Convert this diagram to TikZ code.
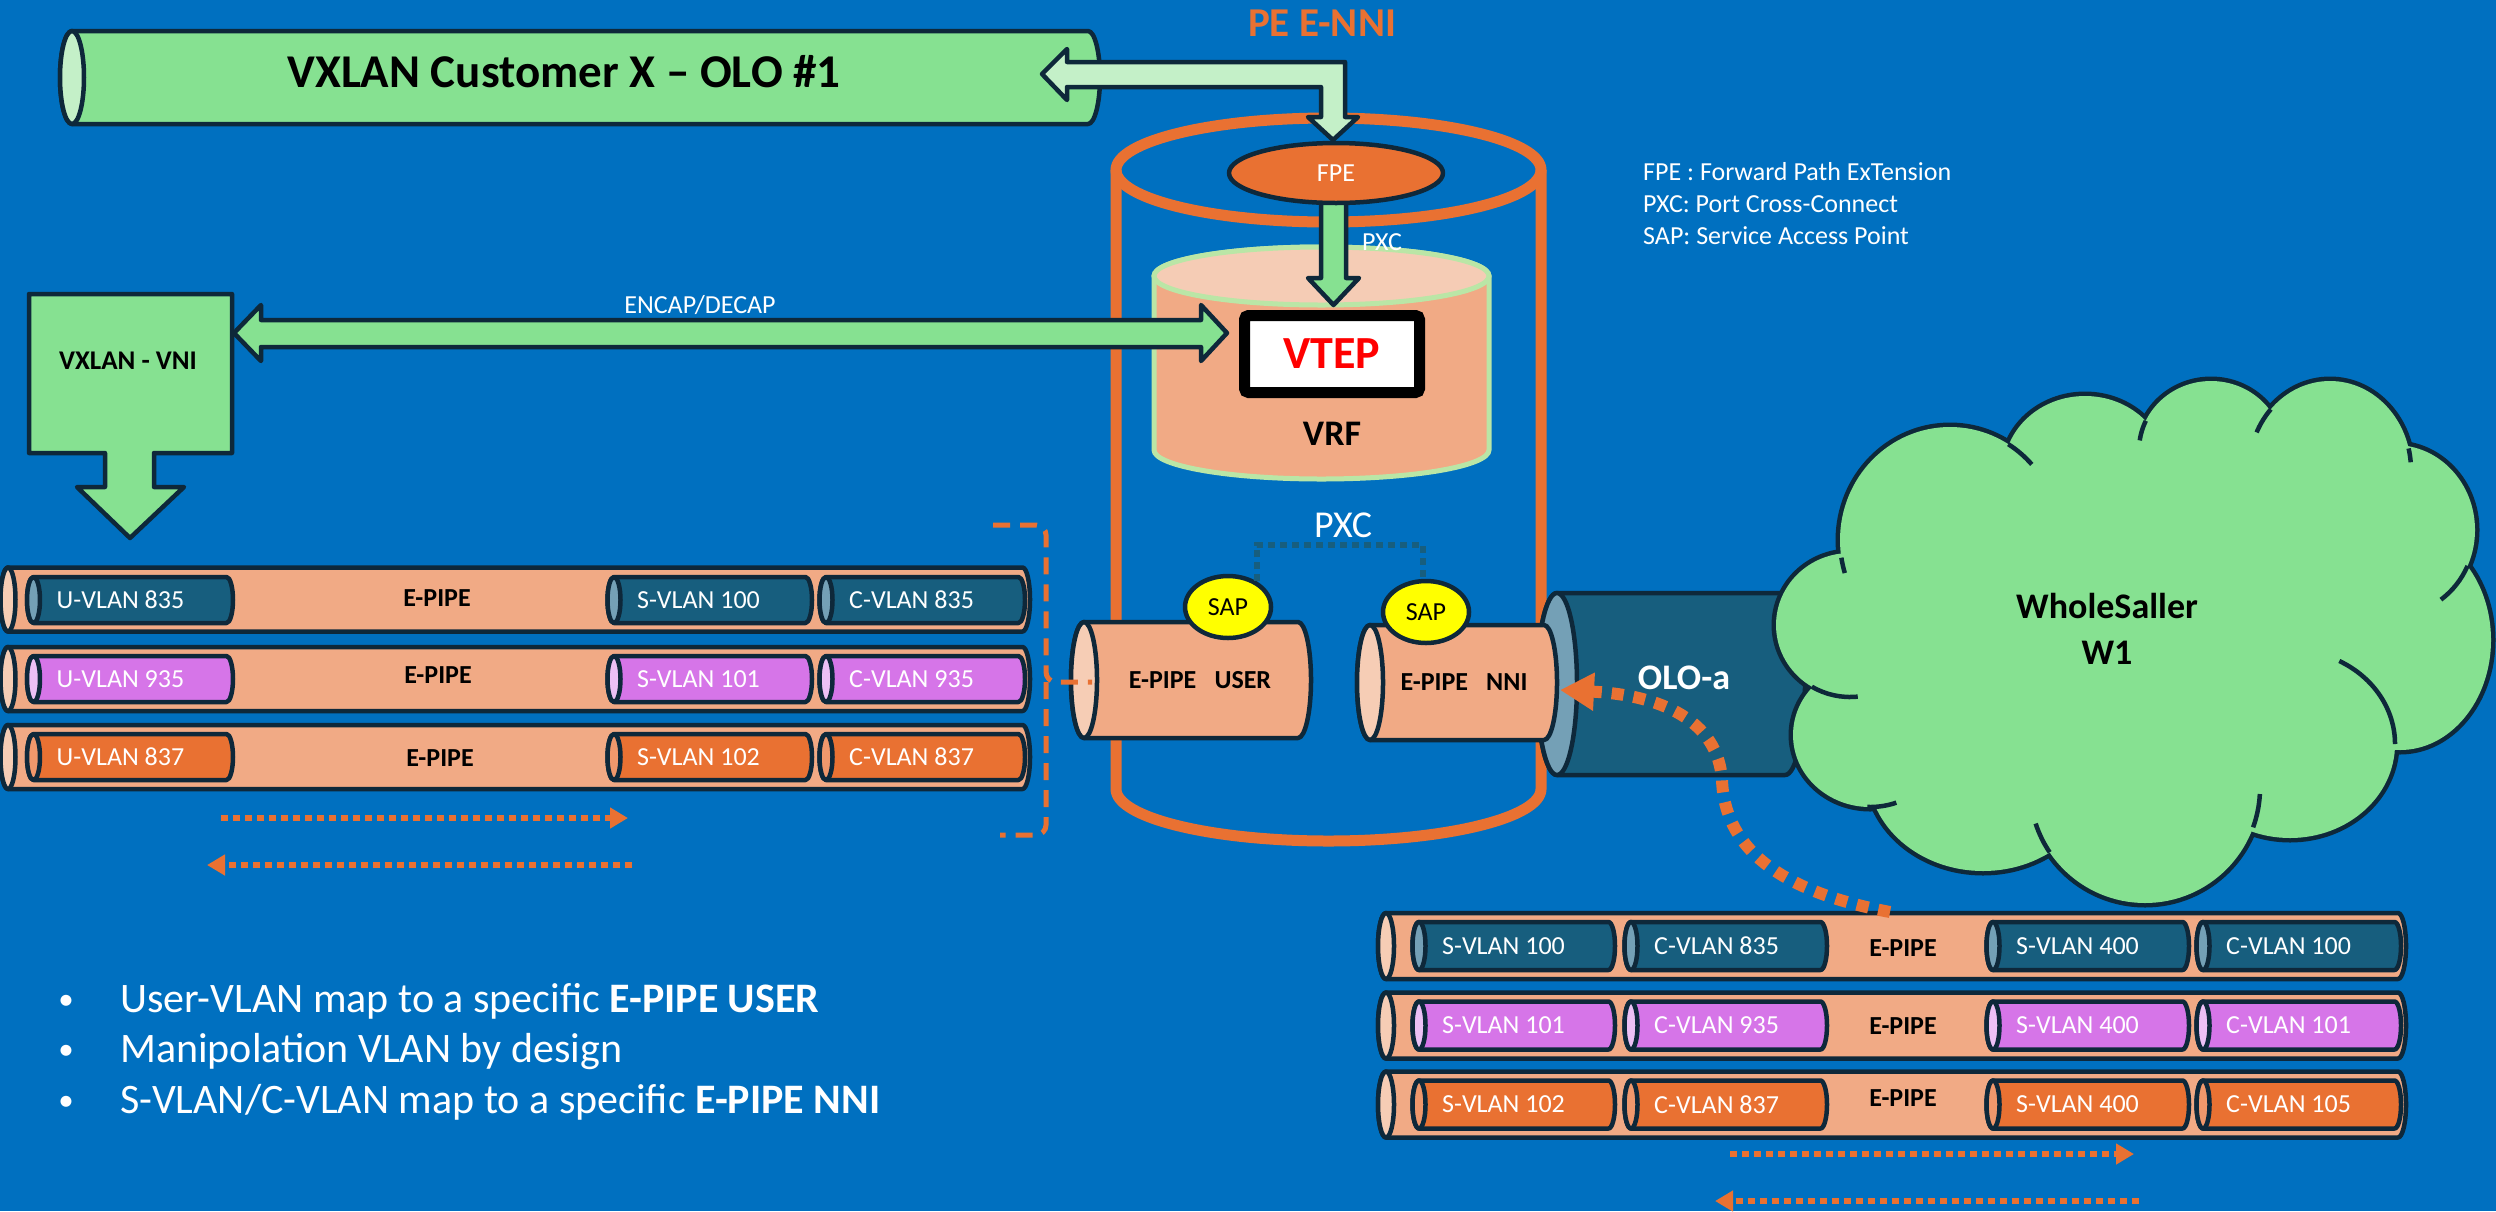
\documentclass[tikz,border=0pt]{standalone}
\usepackage{fontspec}
\setmainfont{Carlito}
\usetikzlibrary{arrows.meta,shapes.geometric}

\definecolor{cBg}{RGB}{0,112,192}
\definecolor{cOut}{RGB}{14,40,58}
\definecolor{cGreen}{RGB}{134,225,145}
\definecolor{cPale}{RGB}{196,240,200}
\definecolor{cSalmon}{RGB}{241,170,133}
\definecolor{cSalmonCap}{RGB}{246,205,181}
\definecolor{cOrange}{RGB}{233,113,50}
\definecolor{cOrangeCap}{RGB}{240,152,108}
\definecolor{cTeal}{RGB}{23,94,126}
\definecolor{cTealCap}{RGB}{116,160,182}
\definecolor{cViolet}{RGB}{214,117,232}
\definecolor{cVioletCap}{RGB}{236,192,245}
\definecolor{cYellow}{RGB}{255,255,0}
\definecolor{cVrfEdge}{RGB}{186,230,166}
\definecolor{cVrfTop}{RGB}{245,204,181}
\definecolor{cRed}{RGB}{255,0,0}

\tikzset{
  outl/.style={draw=cOut, line width=4.5pt, line join=round},
  tx/.style={inner sep=0pt, font=\fontsize{#1}{#1}\selectfont},
  btx/.style={inner sep=0pt, font=\fontsize{#1}{#1}\selectfont\bfseries},
  dotarrow/.style={cOrange, line width=6pt, dash pattern=on 7pt off 5pt,
    -{Triangle[length=18pt,width=20pt]}},
  bigdots/.style={cOrange, line width=12pt, dash pattern=on 12pt off 10pt,
    -{Triangle[length=34pt,width=36pt]}},
  bracepath/.style={cOrange, line width=5pt, dash pattern=on 17pt off 10pt,
    rounded corners=10pt},
  pxcline/.style={draw=cTeal, line width=6pt, dash pattern=on 7pt off 5pt},
  sap/.style={ellipse, outl, fill=cYellow, inner sep=0pt,
    minimum width=86pt, minimum height=62pt, tx=26, text=black},
  epipe/.style={btx=26, text=black},
  pecyl/.style={draw=cOrange, line width=11pt},
}

% horizontal cylinder: left cap centre x, right end x, centre y,
% half height, cap half width, body colour, cap colour
\newcommand{\hcyl}[7]{%
  \draw[outl, fill=#6] (#1,{#3-#4}) -- ({#2-#5},{#3-#4})
    arc[start angle=-90, end angle=90, x radius=#5, y radius=#4]
    -- (#1,{#3+#4})
    arc[start angle=90, end angle=270, x radius=#5, y radius=#4] -- cycle;
  \draw[outl, fill=#7] (#1,#3) ellipse[x radius=#5, y radius=#4];
}
% VLAN tag: left x, right x, centre y, half height, body, cap, text, name
\newcommand{\vtag}[8]{%
  \hcyl{#1}{#2}{#3}{#4}{6.5}{#5}{#6}
  \node[tx=26, text=white, anchor=west] (#8) at ({#1+23},#3) {#7};
}

\begin{document}
\begin{tikzpicture}[x=1pt, y=-1pt]
\useasboundingbox (0,0) rectangle (2496,1211);
\fill[cBg] (0,0) rectangle (2496,1211);

% customer VXLAN pipe
\hcyl{72}{1100}{77.5}{46.5}{12}{cGreen}{cPale}
\node[btx=47] (cust) at (564,72) {VXLAN Customer X – OLO \#1};

% PE E-NNI router body
\node[btx=41, text=cOrange] (pe) at (1322,23) {PE E-NNI};
\draw[pecyl] (1116,170) -- (1116,789)
  arc[start angle=180, end angle=0, x radius=212.5, y radius=52] -- (1541,170);
\draw[pecyl] (1328.5,170) ellipse[x radius=212.5, y radius=52];

% block arrow customer pipe <-> FPE
\draw[outl, fill=cPale] (1042,74) -- (1067,49) -- (1067,62) -- (1345,62)
  -- (1345,117) -- (1358,117) -- (1333,140) -- (1308,117) -- (1321,117)
  -- (1321,87) -- (1067,87) -- (1067,100) -- cycle;

% VRF cylinder
\draw[draw=cVrfEdge, line width=5pt, fill=cSalmon] (1154,276) -- (1154,450)
  arc[start angle=180, end angle=0, x radius=167.5, y radius=29] -- (1489,276)
  arc[start angle=0, end angle=-180, x radius=167.5, y radius=29] -- cycle;
\draw[draw=cVrfEdge, line width=5pt, fill=cVrfTop] (1321.5,276)
  ellipse[x radius=167.5, y radius=29];

% FPE -> VTEP arrow
\draw[outl, fill=cGreen] (1321,195) -- (1346,195) -- (1346,278) -- (1359,278)
  -- (1333.5,305) -- (1308,278) -- (1321,278) -- cycle;
\node[ellipse, outl, fill=cOrange, minimum width=214pt, minimum height=60pt,
  inner sep=0pt, tx=26, text=white] (fpe) at (1336,173) {FPE};
\node[tx=26, text=white, anchor=west] (pxcA) at (1362,242) {PXC};

% VTEP and VRF labels
\node[draw=black, line width=11pt, fill=white, rounded corners=4pt,
  minimum width=175pt, minimum height=77pt, btx=46, text=cRed] (vtep)
  at (1332,354) {VTEP};
\node[btx=36] (vrf) at (1332,434) {VRF};

% ENCAP/DECAP double arrow
\draw[outl, fill=cGreen] (234,333) -- (261,305) -- (261,320) -- (1201,320)
  -- (1201,305) -- (1227,333) -- (1201,361) -- (1201,347) -- (261,347)
  -- (261,361) -- cycle;
\node[tx=26, text=white] (encap) at (700,305) {ENCAP/DECAP};

% VXLAN - VNI callout
\draw[outl, fill=cGreen] (29,294) -- (232,294) -- (232,453) -- (154,453)
  -- (154,487) -- (184,487) -- (130,538) -- (77,487) -- (105,487)
  -- (105,453) -- (29,453) -- cycle;
\node[btx=27] (vni) at (128,361) {VXLAN - VNI};

% user side E-PIPEs
\hcyl{8}{1030}{599.5}{32}{7.5}{cSalmon}{cSalmonCap}
\vtag{33.5}{233}{600}{23}{cTeal}{cTealCap}{U-VLAN 835}{u1}
\vtag{614}{812}{600}{23}{cTeal}{cTealCap}{S-VLAN 100}{s1}
\vtag{826}{1025}{600}{23}{cTeal}{cTealCap}{C-VLAN 835}{c1}
\node[epipe] (ep1) at (437,598) {E-PIPE};

\hcyl{8}{1030}{679}{32}{7.5}{cSalmon}{cSalmonCap}
\vtag{33.5}{233}{679}{23}{cViolet}{cVioletCap}{U-VLAN 935}{u2}
\vtag{614}{812}{679}{23}{cViolet}{cVioletCap}{S-VLAN 101}{s2}
\vtag{826}{1025}{679}{23}{cViolet}{cVioletCap}{C-VLAN 935}{c2}
\node[epipe] (ep2) at (438,675) {E-PIPE};

\hcyl{8}{1030}{757}{32}{7.5}{cSalmon}{cSalmonCap}
\vtag{33.5}{233}{757}{23}{cOrange}{cOrangeCap}{U-VLAN 837}{u3}
\vtag{614}{812}{757}{23}{cOrange}{cOrangeCap}{S-VLAN 102}{s3}
\vtag{826}{1025}{757}{23}{cOrange}{cOrangeCap}{C-VLAN 837}{c3}
\node[epipe] (ep3) at (440,758) {E-PIPE};

% direction hints, user side
\coordinate (la1) at (221,818); \coordinate (la2) at (628,818);
\coordinate (lb1) at (632,865); \coordinate (lb2) at (207,865);
\draw[dotarrow] (la1) -- (la2);
\draw[dotarrow] (lb1) -- (lb2);

% OLO-a access pipe
\hcyl{1557}{1805}{684}{91}{20}{cTeal}{cTealCap}
\node[btx=36, text=white] (olo) at (1684,678) {OLO-a};

% E-PIPE USER / E-PIPE NNI
\hcyl{1084}{1311}{680}{58}{13}{cSalmon}{cSalmonCap}
\node[epipe] (epuser) at (1200,680) {E-PIPE\hspace{0.7em}USER};
\hcyl{1370}{1557}{682.5}{57.5}{13}{cSalmon}{cSalmonCap}
\node[epipe] (epnni) at (1464,682) {E-PIPE\hspace{0.7em}NNI};

% SAPs and the cross-connect between them
\node[sap] (sapA) at (1228,607) {SAP};
\node[sap] (sapB) at (1426,612) {SAP};
\coordinate (pxcTop) at (1340,545);
\draw[pxcline] (sapA.42) |- (pxcTop) -| (sapB.95);
\node[tx=38, text=white] (pxcB) at (1343,525) {PXC};

% grouping bracket to E-PIPE USER
\coordinate (brT) at (993,525);
\coordinate (brM) at (1046,682);
\coordinate (brB) at (1000,835);
\coordinate (userL) at (1092,682);
\draw[bracepath] (brT) -- (1046,525) -- (brM) -- (userL);
\draw[bracepath] (brM) -- (1046,835) -- (brB);

% wholesaler cloud
\foreach \cx/\cy/\rx/\ry in {1850/625/74/72, 1870/735/77/72, 1983/771/115/100,
    2145/788/115/115, 2290/744/105/94, 2400/640/91/110, 2395/530/80/85,
    2330/470/81/89, 2211/450/72/69, 2085/470/81/74, 1950/540/110/113}
  \draw[draw=cOut, line width=9pt, fill=cGreen] (\cx,\cy)
    ellipse[x radius=\rx, y radius=\ry];
\foreach \cx/\cy/\rx/\ry in {1850/625/74/72, 1870/735/77/72, 1983/771/115/100,
    2145/788/115/115, 2290/744/105/94, 2400/640/91/110, 2395/530/80/85,
    2330/470/81/89, 2211/450/72/69, 2085/470/81/74, 1950/540/110/113}
  \fill[cGreen] (\cx,\cy) ellipse[x radius=\rx, y radius=\ry];
\fill[cGreen] (2130,640) ellipse[x radius=250, y radius=170];
\foreach \cx/\cy/\rx/\ry/\a/\b in {1850/625/74/72/121/84, 1870/735/77/72/92/70,
    2145/788/115/115/146/162, 2145/788/115/115/20/3, 2290/744/105/94/0/-62,
    2395/530/80/85/25/55, 2330/470/81/89/-14/-5, 2330/470/81/89/223/205,
    2211/450/72/69/205/188, 1950/540/110/113/-58/-42, 1950/540/110/113/171/163}
  \draw[cOut, line width=4.5pt] ({\cx+\rx*cos(\a)},{\cy+\ry*sin(\a)})
    arc[start angle=\a, end angle=\b, x radius=\rx, y radius=\ry];
\node[font=\fontsize{36}{46}\selectfont\bfseries, align=center, inner sep=0pt]
  (ws) at (2107,629) {WholeSaller\\W1};

% network side E-PIPEs
\hcyl{1386}{2406}{946}{33}{8}{cSalmon}{cSalmonCap}
\vtag{1419}{1615}{946}{24}{cTeal}{cTealCap}{S-VLAN 100}{n11}
\vtag{1631}{1827}{946}{24}{cTeal}{cTealCap}{C-VLAN 835}{n12}
\vtag{1993}{2189}{946}{24}{cTeal}{cTealCap}{S-VLAN 400}{n13}
\vtag{2203}{2401}{946}{24}{cTeal}{cTealCap}{C-VLAN 100}{n14}
\node[epipe] (ep4) at (1903,948) {E-PIPE};

\hcyl{1386}{2406}{1025.5}{33}{8}{cSalmon}{cSalmonCap}
\vtag{1419}{1615}{1025.5}{24}{cViolet}{cVioletCap}{S-VLAN 101}{n21}
\vtag{1631}{1827}{1025.5}{24}{cViolet}{cVioletCap}{C-VLAN 935}{n22}
\vtag{1993}{2189}{1025.5}{24}{cViolet}{cVioletCap}{S-VLAN 400}{n23}
\vtag{2203}{2401}{1025.5}{24}{cViolet}{cVioletCap}{C-VLAN 101}{n24}
\node[epipe] (ep5) at (1903,1026) {E-PIPE};

\hcyl{1386}{2406}{1104.5}{33}{8}{cSalmon}{cSalmonCap}
\vtag{1419}{1615}{1104.5}{24}{cOrange}{cOrangeCap}{S-VLAN 102}{n31}
\vtag{1631}{1827}{1104.5}{24}{cOrange}{cOrangeCap}{C-VLAN 837}{n32}
\vtag{1993}{2189}{1104.5}{24}{cOrange}{cOrangeCap}{S-VLAN 400}{n33}
\vtag{2203}{2401}{1104.5}{24}{cOrange}{cOrangeCap}{C-VLAN 105}{n34}
\node[epipe] (ep6) at (1903,1098) {E-PIPE};

% direction hints, network side
\coordinate (ra1) at (1730,1154); \coordinate (ra2) at (2134,1154);
\coordinate (rb1) at (2139,1201); \coordinate (rb2) at (1715,1201);
\draw[dotarrow] (ra1) -- (ra2);
\draw[dotarrow] (rb1) -- (rb2);

% mapping from network E-PIPEs into E-PIPE NNI
\coordinate (arrS) at (1890,912);
\coordinate (nniE) at (1560,690);
\draw[bigdots] (arrS) .. controls (1800,895) and (1725,860) .. (1722,780)
  .. controls (1718,720) and (1660,695) .. (nniE);

% legend
\node[tx=26, text=white, anchor=west] (lg1) at (1643,172) {FPE : Forward Path ExTension};
\node[tx=26, text=white, anchor=west] (lg2) at (1643,204) {PXC: Port Cross-Connect};
\node[tx=26, text=white, anchor=west] (lg3) at (1643,236) {SAP: Service Access Point};

% notes
\node[tx=31, text=white, anchor=base] (d1) at (66,1009) {•};
\node[tx=31, text=white, anchor=base] (d2) at (66,1059) {•};
\node[tx=31, text=white, anchor=base] (d3) at (66,1110) {•};
\node[tx=42, text=white, anchor=base west] (b1) at (120,1012)
  {User-VLAN map to a specific \textbf{E-PIPE USER}};
\node[tx=42, text=white, anchor=base west] (b2) at (120,1062)
  {Manipolation VLAN by design};
\node[tx=42, text=white, anchor=base west] (b3) at (120,1113)
  {S-VLAN/C-VLAN map to a specific \textbf{E-PIPE NNI}};
\end{tikzpicture}
\end{document}
